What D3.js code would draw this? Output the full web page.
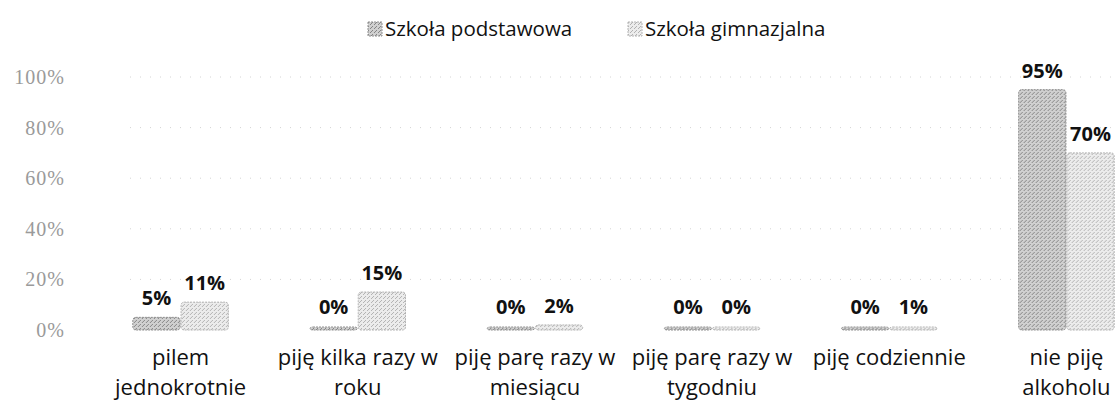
<!DOCTYPE html>
<html>
<head>
<meta charset="utf-8">
<script src="https://cdn.jsdelivr.net/npm/d3@7"></script>
<style>
  body { margin: 0; background: #fff; }
  svg { display: block; }
</style>
</head>
<body>
<div id="chart"></div>
<script>
// data
const categories = [
  ["pilem", "jednokrotnie"],
  ["piję kilka razy w", "roku"],
  ["piję parę razy w", "miesiącu"],
  ["piję parę razy w", "tygodniu"],
  ["piję codziennie"],
  ["nie piję", "alkoholu"]
];
const seriesNames = ["Szkoła podstawowa", "Szkoła gimnazjalna"];
const podstawowa = [5, 0, 0, 0, 0, 95];
const gimnazjalna = [11, 15, 2, 0, 1, 70];
const yTicks = [0, 20, 40, 60, 80, 100];

const width = 1117,
  height = 416;

const svg = d3
  .select("#chart")
  .append("svg")
  .attr("width", width)
  .attr("height", height);

// speckled fills to look like the scan
const defs = svg.append("defs");
const makePattern = (id, bg, dot) => {
  const p = defs
    .append("pattern")
    .attr("id", id)
    .attr("width", 4)
    .attr("height", 4)
    .attr("patternUnits", "userSpaceOnUse");
  p.append("rect").attr("width", 4).attr("height", 4).attr("fill", bg);
  p.append("rect").attr("x", 0).attr("y", 0).attr("width", 1).attr("height", 1).attr("fill", dot);
  p.append("rect").attr("x", 2).attr("y", 2).attr("width", 1).attr("height", 1).attr("fill", dot);
  p.append("rect").attr("x", 3).attr("y", 1).attr("width", 1).attr("height", 1).attr("fill", dot);
};
makePattern("pat0", "#d0d0d0", "#858585");
makePattern("pat1", "#ececec", "#b2b2b2");
const fills = ["url(#pat0)", "url(#pat1)"];
const strokes = ["#8f8f8f", "#b4b4b4"];

const keys = categories.map((c, i) => i);

const x = d3
  .scaleBand()
  .domain(keys)
  .range([92, 1155])
  .paddingInner(0.45)
  .paddingOuter(0.225);

const x1 = d3
  .scaleBand()
  .domain([0, 1])
  .range([0, x.bandwidth()])
  .padding(0.02);

const y = d3.scaleLinear().domain([0, 100]).range([330, 77]);

// faint dotted grid
svg
  .append("g")
  .selectAll("line")
  .data(yTicks.slice(1))
  .enter()
  .append("line")
  .attr("x1", 130)
  .attr("x2", width)
  .attr("y1", d => y(d))
  .attr("y2", d => y(d))
  .attr("stroke", "#d4d4d4")
  .attr("stroke-width", 1)
  .attr("stroke-dasharray", "1 9");

// y axis labels
const yAxis = svg
  .append("g")
  .attr("transform", "translate(65,0)")
  .call(
    d3
      .axisLeft(y)
      .tickValues(yTicks)
      .tickFormat(d => d + "%")
      .tickSize(0)
      .tickPadding(0)
  );
yAxis.select(".domain").remove();
yAxis
  .selectAll("text")
  .attr("font-family", "'Liberation Serif', serif")
  .attr("font-size", 20)
  .attr("letter-spacing", 1)
  .attr("fill", "#9a9a9a");

// bars
const rows = keys.map(i => ({ i, vals: [podstawowa[i], gimnazjalna[i]] }));

const groups = svg
  .append("g")
  .selectAll("g")
  .data(rows)
  .enter()
  .append("g")
  .attr("transform", d => `translate(${x(d.i)},0)`);

const bars = groups
  .selectAll("g")
  .data(d => d.vals.map((v, s) => ({ v, s })))
  .enter()
  .append("g");

bars
  .append("rect")
  .attr("x", d => x1(d.s))
  .attr("width", x1.bandwidth())
  .attr("y", d => Math.min(y(d.v), y(0) - 3))
  .attr("height", d => Math.max(y(0) - y(d.v), 3))
  .attr("rx", 3)
  .attr("fill", d => fills[d.s])
  .attr("stroke", d => strokes[d.s])
  .attr("stroke-width", 1)
  .attr("stroke-dasharray", "2 1");

bars
  .append("text")
  .attr("x", d => x1(d.s) + x1.bandwidth() / 2)
  .attr("y", d => Math.min(y(d.v), y(0) - 4) - 12)
  .attr("text-anchor", "middle")
  .attr("font-family", "'Open Sans', sans-serif")
  .attr("font-weight", "bold")
  .attr("font-size", 20)
  .attr("fill", "#111")
  .text(d => d.v + "%");

// category labels
const catLabels = svg
  .append("g")
  .selectAll("text")
  .data(rows)
  .enter()
  .append("text")
  .attr("x", d => x(d.i) + x.bandwidth() / 2)
  .attr("y", 365)
  .attr("text-anchor", "middle")
  .attr("font-family", "'Open Sans', sans-serif")
  .attr("font-size", 22)
  .attr("fill", "#111");

catLabels
  .selectAll("tspan")
  .data(d => categories[d.i])
  .enter()
  .append("tspan")
  .attr("x", function() {
    return d3.select(this.parentNode).attr("x");
  })
  .attr("dy", (d, j) => (j === 0 ? 0 : 30))
  .text(d => d);

// legend
const legendX = [368, 628];
const legend = svg
  .append("g")
  .selectAll("g")
  .data(seriesNames)
  .enter()
  .append("g")
  .attr("transform", (d, i) => `translate(${legendX[i]},22)`);

legend
  .append("rect")
  .attr("width", 14)
  .attr("height", 14)
  .attr("fill", (d, i) => fills[i])
  .attr("stroke", (d, i) => strokes[i])
  .attr("stroke-dasharray", "2 1");

legend
  .append("text")
  .attr("x", 17)
  .attr("y", 14)
  .attr("font-family", "'Open Sans', sans-serif")
  .attr("font-size", 20.5)
  .attr("fill", "#111")
  .text(d => d);
</script>
</body>
</html>
